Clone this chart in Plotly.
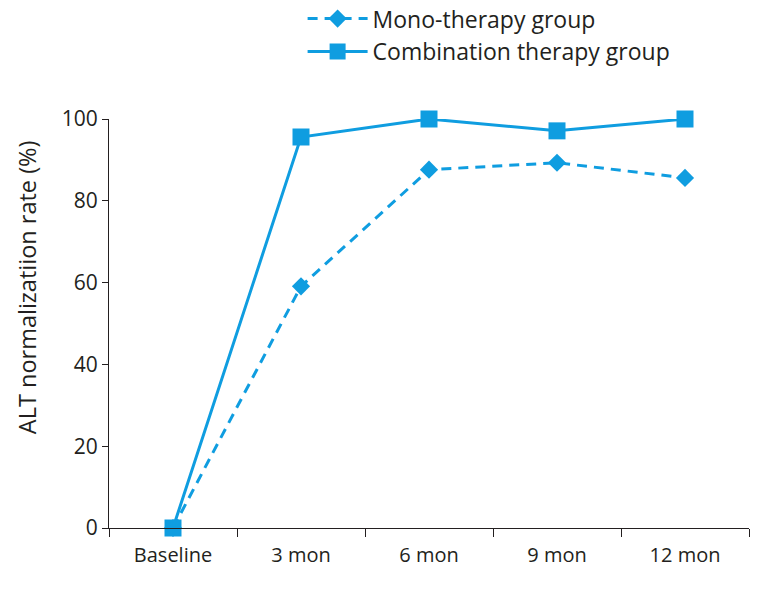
import plotly.graph_objects as go

categories = ["Baseline", "3 mon", "6 mon", "9 mon", "12 mon"]
mono = [0, 59.1, 87.6, 89.3, 85.6]
combo = [0, 95.6, 100, 97.1, 100]
y_ticks = [0, 20, 40, 60, 80, 100]

color = "#0f9de0"
font_family = "'Open Sans', 'Noto Sans', sans-serif"

# page has an 8px body margin; compensate so the plot lands where the reference has it
fig = go.Figure()
fig.add_trace(go.Scatter(
    x=categories, y=mono, name="Mono-therapy group", mode="lines+markers",
    line=dict(color=color, width=3, dash="10px,7px"),
    marker=dict(symbol="diamond", size=14, color=color, opacity=1),
    cliponaxis=False,
))
fig.add_trace(go.Scatter(
    x=categories, y=combo, name="Combination therapy group", mode="lines+markers",
    line=dict(color=color, width=3),
    marker=dict(symbol="square", size=17, color=color, opacity=1),
    cliponaxis=False,
))

fig.add_annotation(
    text="ALT normalizatiion rate (%)", textangle=-90,
    xref="paper", yref="paper", x=-0.128, y=0.589,
    xanchor="center", yanchor="middle", showarrow=False,
    font=dict(size=23.5),
)

fig.update_layout(
    width=756, height=581,
    margin=dict(l=101, r=15, t=111, b=61, autoexpand=False),
    paper_bgcolor="white", plot_bgcolor="white",
    font=dict(family=font_family, color="#231f20", size=20),
    showlegend=True,
    legend=dict(
        x=0.3025, y=1.298, xref="paper", yref="paper", xanchor="left", yanchor="top",
        font=dict(size=23), bgcolor="rgba(0,0,0,0)",
        itemwidth=60, tracegroupgap=0,
    ),
    xaxis=dict(
        type="category", range=[-0.5, 4.5],
        showline=True, linecolor="#231f20", linewidth=1,
        ticks="outside", tickson="boundaries", ticklen=8, tickcolor="#231f20",
        showgrid=False, zeroline=False, automargin=False,
        tickfont=dict(size=20), ticklabelstandoff=9,
    ),
    yaxis=dict(
        range=[0, 100], tickvals=y_ticks,
        showline=True, linecolor="#231f20", linewidth=1,
        ticks="outside", ticklen=6, tickcolor="#231f20",
        showgrid=False, zeroline=False, automargin=False,
        tickfont=dict(size=21),
    ),
)

fig.write_html("out.html")
